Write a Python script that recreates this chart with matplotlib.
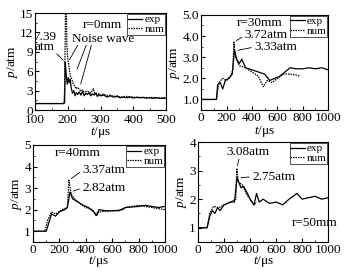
import matplotlib
matplotlib.use("Agg")
import matplotlib.pyplot as plt
from matplotlib.ticker import AutoMinorLocator

plt.rcParams["font.family"] = ["Liberation Serif", "DejaVu Serif"]
plt.rcParams["mathtext.fontset"] = "custom"
plt.rcParams["mathtext.rm"] = "Liberation Serif"
plt.rcParams["mathtext.it"] = "Liberation Serif:italic"

# r = 0 mm
t0_exp = [100, 185, 190, 192, 195, 198, 201, 204, 207, 210, 214, 218, 222, 226, 230, 235, 240, 245, 250,
          255, 260, 265, 270, 275, 280, 285, 290, 295, 300, 310, 320, 330, 340, 350, 360, 370, 380, 390,
          400, 410, 420, 430, 440, 450, 460, 470, 480, 490, 500]
p0_exp = [1.0, 1.0, 1.1, 7.39, 5.5, 4.0, 5.0, 4.2, 4.8, 3.5, 2.6, 3.0, 2.2, 2.7, 2.4, 2.8, 2.3, 2.9, 2.2,
          2.6, 2.4, 2.7, 2.2, 2.5, 2.3, 2.6, 2.1, 2.4, 2.2, 2.3, 2.0, 2.2, 2.0, 2.1, 1.9, 2.0, 1.9, 2.0,
          1.85, 1.95, 1.9, 1.95, 1.85, 1.9, 1.8, 1.9, 1.85, 1.8, 1.85]
t0_num = [100, 188, 190, 193, 195, 197, 200, 204, 208, 212, 216, 220, 225, 230, 235, 240, 245, 250, 260,
          270, 278, 282, 290, 300, 310, 320, 330, 340, 350, 360, 380, 400, 420, 440, 460, 480, 500]
p0_num = [1.0, 1.0, 3.0, 16.0, 15.5, 10.0, 7.8, 6.5, 5.2, 4.8, 4.0, 3.8, 3.3, 3.5, 3.2, 2.9, 3.1, 2.8, 2.9,
          2.6, 3.3, 2.5, 2.6, 2.3, 2.5, 2.2, 2.3, 2.1, 2.2, 2.0, 2.1, 2.0, 1.95, 1.9, 1.95, 1.85, 1.9]

# r = 30 mm
t30_exp = [0, 120, 130, 150, 170, 190, 220, 245, 262, 280, 300, 320, 350, 400, 450, 500, 540, 580, 620,
           660, 700, 750, 800, 850, 900, 950, 1000]
p30_exp = [1.0, 1.0, 1.7, 1.8, 1.5, 1.9, 2.0, 2.2, 3.33, 2.9, 2.7, 2.9, 2.5, 2.4, 2.3, 2.2, 1.9, 2.0, 2.1,
           2.3, 2.5, 2.45, 2.45, 2.5, 2.45, 2.5, 2.4]
t30_num = [0, 120, 140, 170, 200, 230, 250, 258, 270, 300, 350, 400, 450, 490, 520, 560, 600, 650, 700,
           750, 780]
p30_num = [1.0, 1.0, 1.8, 2.0, 1.9, 2.1, 2.4, 3.72, 3.0, 2.6, 2.5, 2.3, 2.1, 1.6, 1.9, 1.8, 2.0, 2.2, 2.2,
           2.15, 2.1]

# r = 40 mm
t40_exp = [0, 90, 100, 120, 140, 170, 200, 240, 260, 280, 300, 330, 380, 420, 460, 480, 500, 550, 650,
           700, 800, 850, 950, 1000]
p40_exp = [1.0, 1.0, 1.0, 1.4, 1.8, 1.7, 1.9, 2.0, 2.1, 2.82, 2.5, 2.4, 2.2, 2.1, 1.9, 1.75, 2.0, 1.95,
           1.95, 2.1, 2.15, 2.2, 2.1, 2.15]
t40_num = [0, 90, 110, 140, 170, 220, 260, 272, 290, 330, 400, 450, 480, 500, 600, 680, 700, 800, 900,
           1000]
p40_num = [1.0, 1.0, 1.5, 1.9, 1.8, 2.0, 2.1, 3.37, 2.7, 2.4, 2.1, 2.0, 1.7, 1.9, 1.95, 2.0, 2.1, 2.2,
           2.1, 2.0]

# r = 50 mm
t50_exp = [0, 70, 90, 110, 130, 150, 170, 200, 250, 280, 300, 330, 350, 380, 400, 430, 450, 470, 500,
           550, 600, 650, 700, 760, 800, 850, 900, 950, 1000]
p50_exp = [1.0, 1.0, 1.4, 1.6, 1.5, 1.7, 1.6, 1.8, 1.9, 1.9, 2.75, 2.4, 2.45, 2.2, 2.0, 1.8, 2.2, 1.9,
           2.0, 1.85, 1.9, 1.8, 2.0, 2.2, 2.0, 2.05, 2.1, 2.0, 2.05]
t50_num = [0, 70, 90, 120, 160, 200, 250, 290, 298, 310, 340, 370, 400, 430, 450]
p50_num = [1.0, 1.0, 1.5, 1.75, 1.7, 1.8, 1.9, 2.0, 3.08, 2.6, 2.5, 2.2, 2.0, 1.8, 1.9]

fig = plt.figure(figsize=(3.48, 2.71), dpi=100)

num_style = dict(color="black", lw=0.9, ls=(0, (1.2, 0.8)))
exp_style = dict(color="black", lw=0.9, ls="-")
fs = 9.5


def panel(rect, te, pe, tn, pn, xlim, ylim, yticks, xticks, yfmt, xpad, xtpad=1.5):
    ax = fig.add_axes(rect)
    ax.plot(te, pe, label="exp", **exp_style)
    ax.plot(tn, pn, label="num", **num_style)
    ax.set_xlim(*xlim)
    ax.set_ylim(*ylim)
    ax.set_xticks(xticks)
    ax.set_yticks(yticks)
    ax.set_yticklabels([yfmt.format(v) for v in yticks])
    ax.xaxis.set_minor_locator(AutoMinorLocator(2))
    ax.yaxis.set_minor_locator(AutoMinorLocator(2))
    ax.tick_params(which="both", direction="in", labelsize=fs, pad=1.5)
    ax.tick_params(axis="x", pad=xtpad)
    ax.tick_params(which="major", length=3)
    ax.tick_params(which="minor", length=1.5)
    ax.set_xlabel(r"$\mathit{t}$/μs", fontsize=fs, labelpad=xpad)
    ax.set_ylabel(r"$\mathit{p}$/atm", fontsize=fs, labelpad=0)
    leg = ax.legend(loc="upper right", fontsize=8, frameon=True, fancybox=False,
                    edgecolor="black", borderpad=0.05, labelspacing=0.0, handlelength=1.3,
                    handletextpad=0.2, borderaxespad=0.1)
    leg.get_frame().set_linewidth(0.6)
    leg.set_zorder(2.5)
    return ax


arrow = dict(arrowstyle="-", color="black", lw=0.6)

ax1 = panel([0.101, 0.594, 0.376, 0.358], t0_exp, p0_exp, t0_num, p0_num,
            (100, 500), (0, 15), [0, 3, 6, 9, 12, 15], [100, 200, 300, 400, 500], "{:g}", -1, 3)
ax1.text(245, 12.7, "r=0mm", fontsize=fs)
ax1.text(128, 9.3, "7.39\natm", fontsize=fs, ha="center", linespacing=0.8)
ax1.annotate("", xy=(192, 7.4), xytext=(160, 9.0), arrowprops=arrow)
ax1.text(213, 10.5, "Noise wave", fontsize=fs)
ax1.annotate("", xy=(201, 7.4), xytext=(234, 10.4), arrowprops=arrow)
ax1.annotate("", xy=(225, 5.9), xytext=(259, 10.4), arrowprops=arrow)
ax1.annotate("", xy=(237, 3.6), xytext=(274, 10.4), arrowprops=arrow)

ax2 = panel([0.578, 0.594, 0.365, 0.351], t30_exp, p30_exp, t30_num, p30_num,
            (0, 1000), (0.5, 5.0), [1.0, 2.0, 3.0, 4.0, 5.0], [0, 200, 400, 600, 800, 1000], "{:.1f}", 0)
ax2.text(283, 4.62, "r=30mm", fontsize=fs, va="center")
ax2.text(339, 4.05, "3.72atm", fontsize=fs, va="center")
ax2.annotate("", xy=(258, 3.72), xytext=(339, 4.0), arrowprops=arrow)
ax2.text(417, 3.48, "3.33atm", fontsize=fs, va="center")
ax2.annotate("", xy=(268, 3.3), xytext=(417, 3.48), arrowprops=arrow)

ax3 = panel([0.095, 0.107, 0.379, 0.358], t40_exp, p40_exp, t40_num, p40_num,
            (0, 1000), (0.5, 5.0), [1, 2, 3, 4, 5], [0, 200, 400, 600, 800, 1000], "{:g}", -1.5)
ax3.text(167, 4.63, "r=40mm", fontsize=fs, va="center")
ax3.text(371, 3.84, "3.37atm", fontsize=fs, va="center")
ax3.annotate("", xy=(272, 3.37), xytext=(371, 3.8), arrowprops=arrow)
ax3.text(371, 3.0, "2.82atm", fontsize=fs, va="center")
ax3.annotate("", xy=(285, 2.82), xytext=(371, 3.0), arrowprops=arrow)

ax4 = panel([0.569, 0.107, 0.374, 0.369], t50_exp, p50_exp, t50_num, p50_num,
            (0, 1000), (0.5, 4.0), [1, 2, 3, 4], [0, 200, 400, 600, 800, 1000], "{:g}", -1.5)
ax4.text(215, 3.65, "3.08atm", fontsize=fs, va="center")
ax4.annotate("", xy=(298, 3.08), xytext=(320, 3.5), arrowprops=arrow)
ax4.text(415, 2.78, "2.75atm", fontsize=fs, va="center")
ax4.annotate("", xy=(310, 2.75), xytext=(415, 2.78), arrowprops=arrow)
ax4.text(723, 1.17, "r=50mm", fontsize=fs, va="center")

fig.savefig("out.png", dpi=100)
